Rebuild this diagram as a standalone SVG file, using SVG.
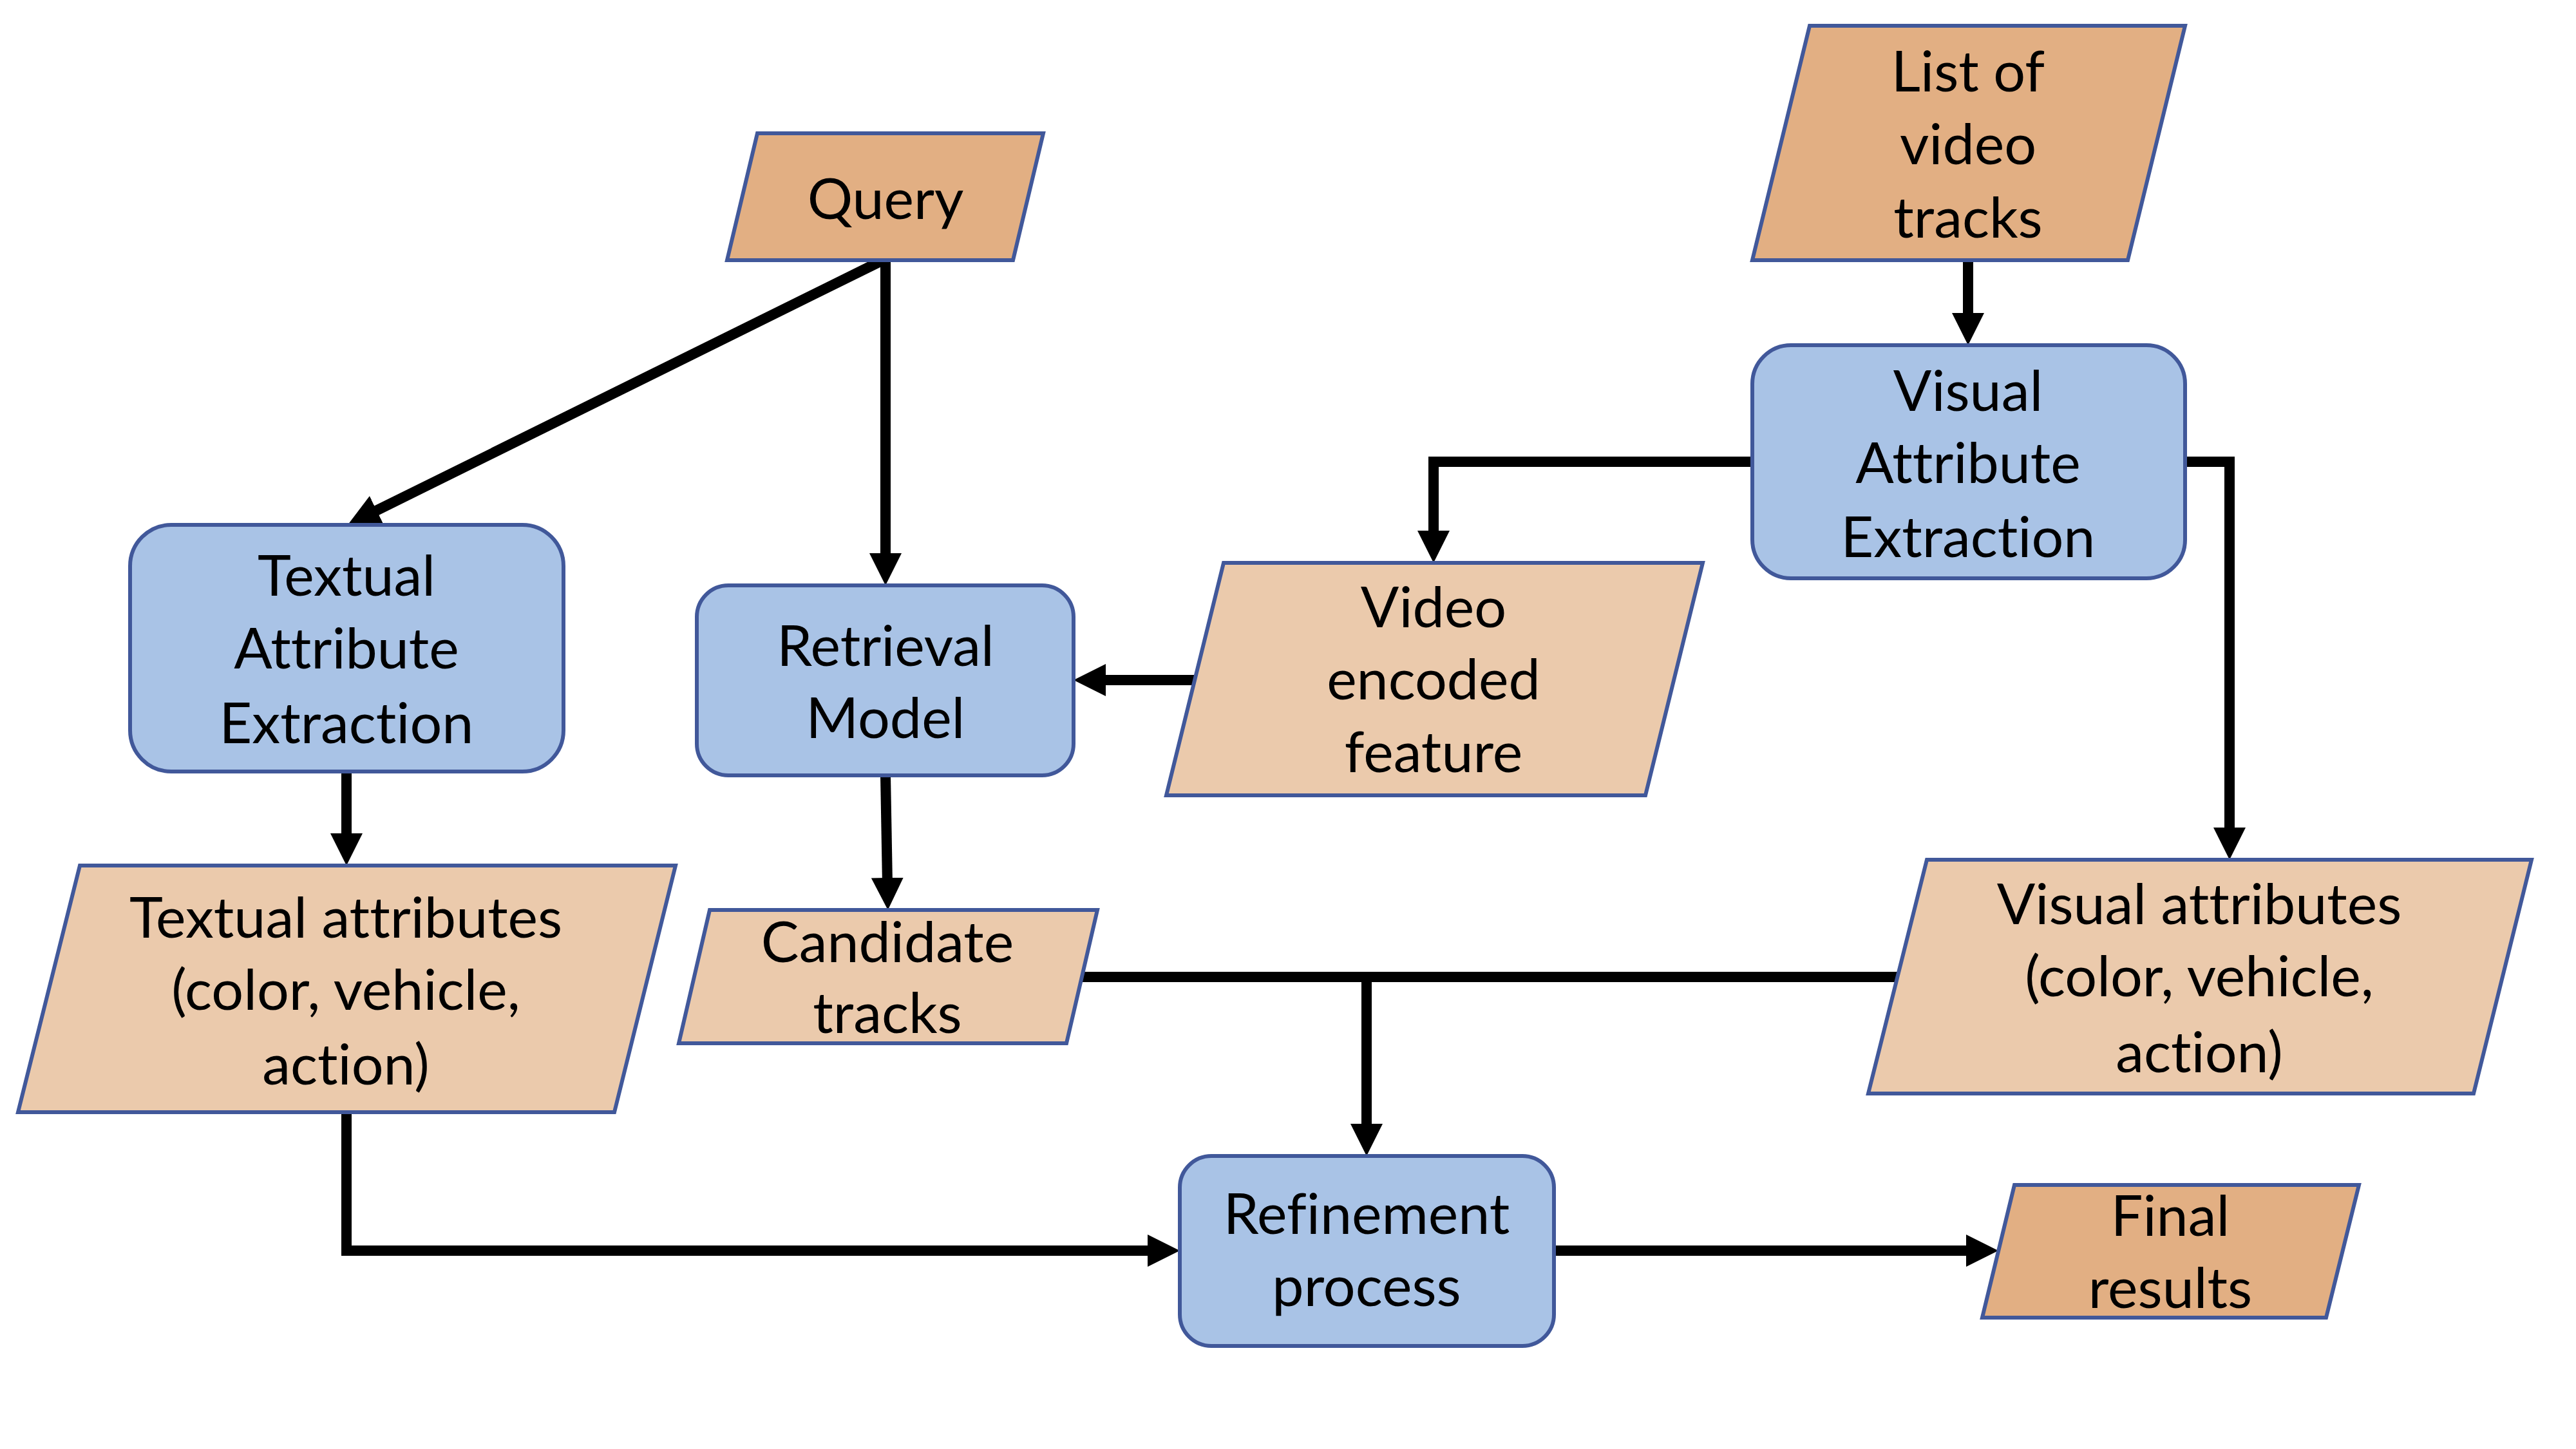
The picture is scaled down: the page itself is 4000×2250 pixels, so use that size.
<svg xmlns="http://www.w3.org/2000/svg" width="4000" height="2250" viewBox="0 0 4000 2250">
<style>
.dark{fill:#E2AF83;stroke:#41589A;stroke-width:6}
.light{fill:#EBCAAC;stroke:#41589A;stroke-width:6}
.proc{fill:#A9C3E6;stroke:#41589A;stroke-width:6}
.lbl{font-family:Lato,"Open Sans",sans-serif;font-size:88px;fill:#000;text-anchor:middle;font-variant-ligatures:none;font-feature-settings:"liga" 0,"clig" 0,"dlig" 0}
.conn{fill:none;stroke:#000;stroke-width:16;stroke-linejoin:miter}
.arr{marker-end:url(#ah)}
</style>
<defs>
<marker id="ah" markerUnits="userSpaceOnUse" markerWidth="50" markerHeight="50" viewBox="0 0 50 50" refX="10" refY="25" orient="auto">
<path d="M0,0 L50,25 L0,50 Z" fill="#000"/>
</marker>
</defs>
<rect width="4000" height="2250" fill="#fff"/>
<g id="connectors">
<path class="conn arr" d="M1375,402 L576,797"/>
<path class="conn arr" d="M1375,404 V869"/>
<path class="conn arr" d="M3056,404 V496"/>
<path class="conn arr" d="M2721,717 H2226 V834"/>
<path class="conn arr" d="M3393,717 H3462 V1295"/>
<path class="conn arr" d="M1855,1056 H1707"/>
<path class="conn arr" d="M538,1198 V1304"/>
<path class="conn arr" d="M1375,1204 L1378,1373"/>
<path class="conn" d="M1680,1517 H2947"/>
<path class="conn arr" d="M2122,1517 V1755"/>
<path class="conn arr" d="M538,1727 V1942 H1792"/>
<path class="conn arr" d="M2413,1942 H3063"/>
</g>
<g id="query">
<polygon class="dark" points="1176,207 1620,207 1573,404 1129,404"/>
<text class="lbl" x="1375" y="340">Query</text>
</g>
<g id="list-of-video-tracks">
<polygon class="dark" points="2810,40 3393,40 3304,404 2721,404"/>
<text class="lbl" x="3056" y="142">List of</text>
<text class="lbl" x="3056" y="255">video</text>
<text class="lbl" x="3056" y="369">tracks</text>
</g>
<g id="textual-attribute-extraction">
<rect class="proc" x="202" y="815" width="673" height="383" rx="64"/>
<text class="lbl" x="538" y="925">Textual</text>
<text class="lbl" x="538" y="1038">Attribute</text>
<text class="lbl" x="538" y="1154">Extraction</text>
</g>
<g id="retrieval-model">
<rect class="proc" x="1082" y="909" width="585" height="295" rx="49"/>
<text class="lbl" x="1375" y="1034">Retrieval</text>
<text class="lbl" x="1375" y="1146">Model</text>
</g>
<g id="visual-attribute-extraction">
<rect class="proc" x="2721" y="536" width="672" height="362" rx="60"/>
<text class="lbl" x="3056" y="638">Visual</text>
<text class="lbl" x="3056" y="750">Attribute</text>
<text class="lbl" x="3056" y="865">Extraction</text>
</g>
<g id="video-encoded-feature">
<polygon class="light" points="1900,874 2644,874 2555,1235 1811,1235"/>
<text class="lbl" x="2226" y="974">Video</text>
<text class="lbl" x="2226" y="1086">encoded</text>
<text class="lbl" x="2226" y="1199">feature</text>
</g>
<g id="textual-attributes">
<polygon class="light" points="124,1344 1049,1344 954,1727 28,1727"/>
<text class="lbl" x="537" y="1456">Textual attributes</text>
<text class="lbl" x="537" y="1568">(color, vehicle,</text>
<text class="lbl" x="537" y="1684">action)</text>
</g>
<g id="candidate-tracks">
<polygon class="light" points="1102,1413 1704,1413 1656,1620 1054,1620"/>
<text class="lbl" x="1378" y="1494">Candidate</text>
<text class="lbl" x="1378" y="1604">tracks</text>
</g>
<g id="visual-attributes">
<polygon class="light" points="2992,1335 3931,1335 3841,1698 2901,1698"/>
<text class="lbl" x="3415" y="1435">Visual attributes</text>
<text class="lbl" x="3415" y="1547">(color, vehicle,</text>
<text class="lbl" x="3415" y="1665">action)</text>
</g>
<g id="refinement-process">
<rect class="proc" x="1832" y="1795" width="581" height="295" rx="49"/>
<text class="lbl" x="2122" y="1916">Refinement</text>
<text class="lbl" x="2122" y="2028">process</text>
</g>
<g id="final-results">
<polygon class="dark" points="3128,1840 3663,1840 3612,2046 3078,2046"/>
<text class="lbl" x="3370" y="1919">Final</text>
<text class="lbl" x="3370" y="2031">results</text>
</g>
</svg>
